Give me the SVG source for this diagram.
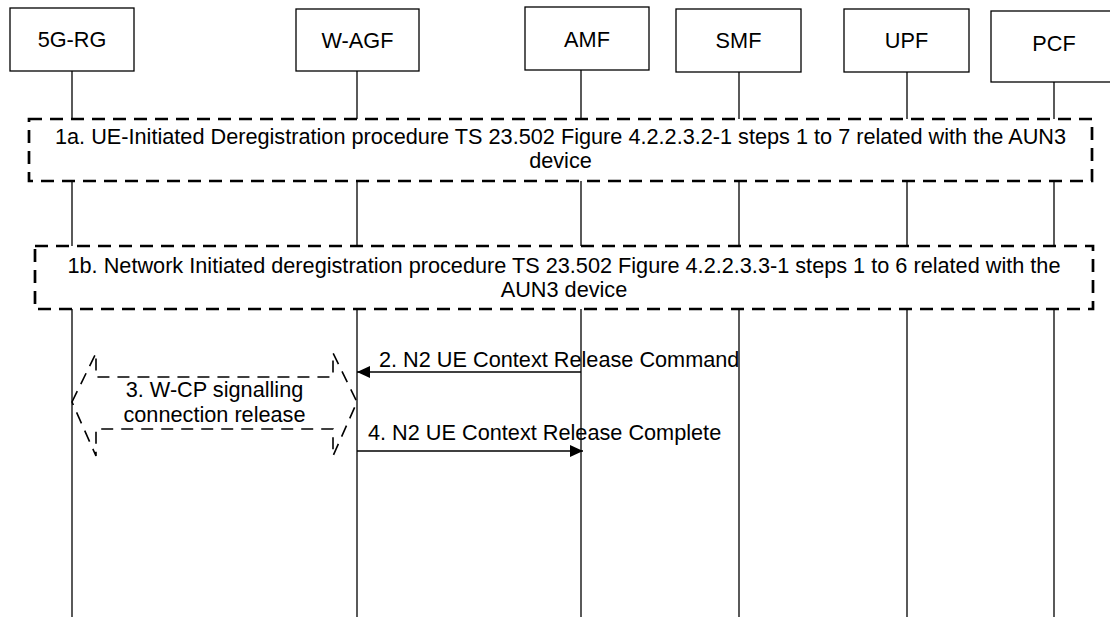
<svg xmlns="http://www.w3.org/2000/svg" width="1110" height="617" viewBox="0 0 1110 617">
<style>
text{font-family:"Liberation Sans",Arial,sans-serif;font-size:21.7px;fill:#000}
.c{text-anchor:middle}
.box{fill:#fff;stroke:#000;stroke-width:1.3}
.life{stroke:#000;stroke-width:1.3;fill:none}
.grp{fill:#fff;stroke:#000;stroke-width:2.7;stroke-dasharray:13 8}
.hex{fill:none;stroke:#000;stroke-width:1.6;stroke-dasharray:12 8}
.msg{stroke:#000;stroke-width:1.3;fill:none}
</style>
<defs>
<marker id="ah" viewBox="0 0 13 12" refX="13" refY="6" markerWidth="13" markerHeight="12" markerUnits="userSpaceOnUse" orient="auto">
<path d="M0,0 L13,6 L0,12 Z" fill="#000"/>
</marker>
</defs>
<rect width="1110" height="617" fill="#fff"/>
<g id="lifelines">
<line class="life" x1="72" y1="71" x2="72" y2="617"/>
<line class="life" x1="357" y1="71" x2="357" y2="617"/>
<line class="life" x1="581" y1="70" x2="581" y2="617"/>
<line class="life" x1="739" y1="72" x2="739" y2="617"/>
<line class="life" x1="907" y1="72" x2="907" y2="617"/>
<line class="life" x1="1054" y1="82" x2="1054" y2="617"/>
</g>
<g id="n-5grg"><rect class="box" x="10" y="8" width="124" height="63"/><text class="c" x="72" y="47">5G-RG</text></g>
<g id="n-wagf"><rect class="box" x="296" y="9" width="123" height="62"/><text class="c" x="357.5" y="48">W-AGF</text></g>
<g id="n-amf"><rect class="box" x="525" y="7" width="124" height="63"/><text class="c" x="587" y="47">AMF</text></g>
<g id="n-smf"><rect class="box" x="676" y="9" width="125" height="63"/><text class="c" x="738.5" y="48">SMF</text></g>
<g id="n-upf"><rect class="box" x="844" y="9" width="125" height="63"/><text class="c" x="906.5" y="48">UPF</text></g>
<g id="n-pcf"><rect class="box" x="991" y="11" width="126" height="71"/><text class="c" x="1054" y="51">PCF</text></g>
<g id="step1a">
<rect class="grp" x="29" y="119" width="1063" height="62"/>
<text class="c" x="560.5" y="144">1a. UE-Initiated Deregistration procedure TS 23.502 Figure 4.2.2.3.2-1 steps 1 to 7 related with the AUN3</text>
<text class="c" x="560.5" y="168">device</text>
</g>
<g id="step1b">
<rect class="grp" x="35" y="246" width="1058" height="63"/>
<text class="c" x="564" y="273">1b. Network Initiated deregistration procedure TS 23.502 Figure 4.2.2.3.3-1 steps 1 to 6 related with the</text>
<text class="c" x="564" y="297">AUN3 device</text>
</g>
<g id="step3">
<path class="hex" d="M72,402 L96,353 L96,377 L333,377 L333,353 L357,402 L333,456 L333,429 L96,429 L96,456 Z"/>
<text class="c" x="214.5" y="397">3. W-CP signalling</text>
<text class="c" x="214.5" y="422">connection release</text>
</g>
<g id="connectors">
<line class="msg" x1="581" y1="372" x2="357" y2="372" marker-end="url(#ah)"/>
<text x="379" y="367">2. N2 UE Context Release Command</text>
<line class="msg" x1="357" y1="451" x2="583" y2="451" marker-end="url(#ah)"/>
<text x="368" y="440">4. N2 UE Context Release Complete</text>
</g>
</svg>
